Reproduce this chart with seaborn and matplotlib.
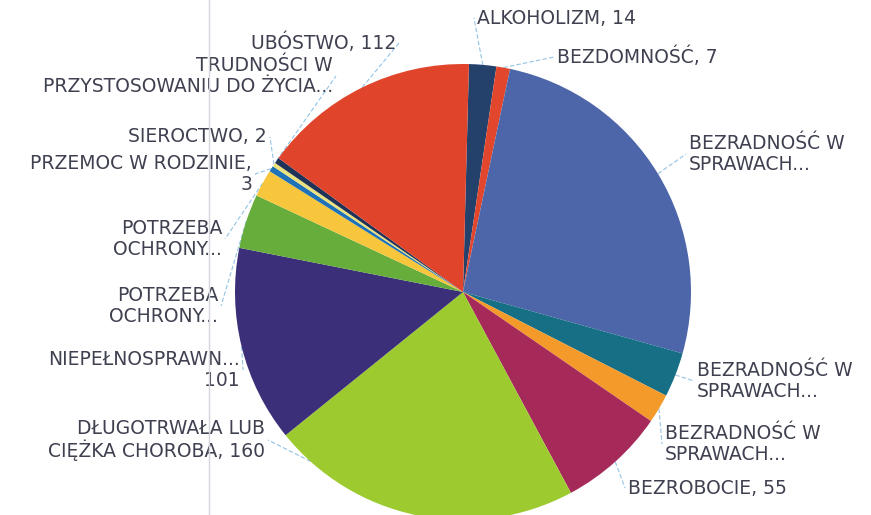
import numpy as np
import matplotlib
matplotlib.use("Agg")
import matplotlib.pyplot as plt
import seaborn as sns
from matplotlib.lines import Line2D

# ---- data ----
labels = [
    "ALKOHOLIZM, 14",
    "BEZDOMNOŚĆ, 7",
    "BEZRADNOŚĆ W\nSPRAWACH...",
    "BEZRADNOŚĆ W\nSPRAWACH...",
    "BEZRADNOŚĆ W\nSPRAWACH...",
    "BEZROBOCIE, 55",
    "DŁUGOTRWAŁA LUB\nCIĘŻKA CHOROBA, 160",
    "NIEPEŁNOSPRAWN...\n101",
    "POTRZEBA\nOCHRONY...",
    "POTRZEBA\nOCHRONY...",
    "PRZEMOC W RODZINIE,\n3",
    "SIEROCTWO, 2",
    "TRUDNOŚCI W\nPRZYSTOSOWANIU DO ŻYCIA...",
    "UBÓSTWO, 112",
]
values = [14, 7, 189, 23, 15, 55, 160, 101, 28, 14, 3, 2, 3, 112]
colors = ["#23416b", "#e2472d", "#4c66a9", "#176f86", "#f39a2b", "#a52a5a",
          "#9dcb2f", "#3a2f78", "#67ad3c", "#f8c63c", "#1f72b8", "#ece27c",
          "#1f3258", "#e0452c"]

# label placement (pixel coords, y from top): x, y, horizontal alignment
label_pos = [
    (477, 18, "left"), (557, 57, "left"), (689, 154, "left"),
    (697, 381, "left"), (665, 444, "left"), (628, 488, "left"),
    (265, 440, "right"), (240, 370, "right"), (218, 306, "right"),
    (222, 239, "right"), (252, 174, "right"), (267, 137, "right"),
    (333, 76, "right"), (396, 43, "right"),
]

W, H = 871, 515
sns.set_theme(style="white")
plt.rcParams["font.family"] = ["DejaVu Sans"]

fig = plt.figure(figsize=(W / 100, H / 100), dpi=100)
fig.patch.set_facecolor("white")
ax = fig.add_axes([0, 0, 1, 1])
ax.set_xlim(0, W)
ax.set_ylim(0, H)
ax.set_aspect("equal")
ax.axis("off")

cx, cy, R = 463, H - 292, 228
wedges, _ = ax.pie(values, colors=colors, startangle=88.5, counterclock=False,
                   center=(cx, cy), radius=R, frame=True,
                   wedgeprops=dict(linewidth=0))
ax.set_xlim(0, W)
ax.set_ylim(0, H)
ax.axis("off")

txt_color = "#3f4150"
for w, lab, (lx, ly, ha) in zip(wedges, labels, label_pos):
    mid = np.deg2rad((w.theta1 + w.theta2) / 2)
    ex, ey = cx + R * np.cos(mid), cy + R * np.sin(mid)
    ty = H - ly
    ax.text(lx, ty, lab, ha=ha, va="center", fontsize=13.5, color=txt_color,
            linespacing=1.08, multialignment=ha)
    ax_x = lx - 3 if ha == "left" else lx + 3
    ax.plot([ex, ax_x], [ey, ty], color="#93c3e6", lw=0.8,
            linestyle=(0, (4, 2)), zorder=0.5)

# scan fold line
fig.add_artist(Line2D([209 / W, 209 / W], [0, 1], color="#d4d6dc", lw=1.0))

fig.savefig("out.png", dpi=100, facecolor="white")
